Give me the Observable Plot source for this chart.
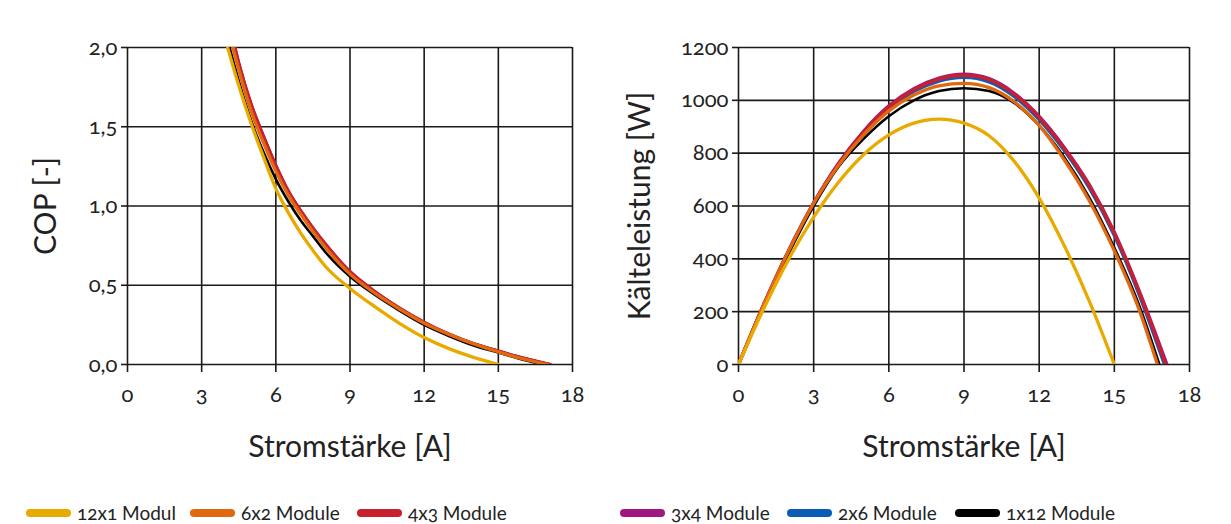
<!DOCTYPE html>
<html>
<head>
<meta charset="utf-8">
<script src="https://cdn.jsdelivr.net/npm/d3@7"></script>
<script src="https://cdn.jsdelivr.net/npm/@observablehq/plot@0.6"></script>
<style>
  html, body { margin: 0; padding: 0; background: #fff; }
  #wrap { position: relative; width: 1231px; height: 524px; overflow: hidden;
          font-family: "Lato", "Open Sans", sans-serif; font-variant-numeric: oldstyle-nums; color: #222; }
  .panel { position: absolute; top: 0; }
  .leg { position: absolute; top: 501px; display: flex; align-items: center; font-size: 19px; color: #222; white-space: nowrap; }
  .sw { width: 45px; height: 8px; border-radius: 4px; margin-right: 6px; }
</style>
</head>
<body>
<div id="wrap">
  <div id="left" class="panel" style="left:0px"></div>
  <div id="right" class="panel" style="left:600px"></div>
  <div id="legend"></div>
</div>
<script>
// ---- series ----
const seriesNames = ["12x1 Modul", "6x2 Module", "4x3 Module", "3x4 Module", "2x6 Module", "1x12 Module"];
const seriesColors = ["#E9AA00", "#E2680F", "#C8202D", "#A01780", "#0B5CB5", "#000000"];

// ---- COP [-] vs Stromstärke [A]: [I, COP] ----
const cop_12x1 = [[4.05,2.0],[4.5,1.76],[5,1.52],[5.5,1.31],[6,1.11],[6.5,0.96],[7,0.83],[7.5,0.72],[8,0.62],[9,0.48],[10,0.365],[11,0.26],[12,0.17],[13,0.10],[14,0.045],[15,0.0]];
const cop_6x2  = [[4.26,2.0],[4.5,1.86],[5,1.60],[5.5,1.40],[6,1.22],[6.5,1.07],[7,0.95],[7.5,0.84],[8,0.74],[9,0.57],[10,0.45],[11,0.35],[12,0.26],[13,0.19],[14,0.13],[15,0.08],[16,0.035],[17.0,0.0]];
const cop_4x3  = [[4.34,2.0],[4.5,1.90],[5,1.64],[5.5,1.44],[6,1.255],[6.5,1.095],[7,0.97],[7.5,0.86],[8,0.76],[9,0.585],[10,0.46],[11,0.355],[12,0.265],[13,0.19],[14,0.13],[15,0.085],[16,0.04],[17.1,0.0]];
const cop_3x4  = [[4.34,2.0],[4.5,1.90],[5,1.64],[5.5,1.44],[6,1.255],[6.5,1.095],[7,0.97],[7.5,0.86],[8,0.76],[9,0.585],[10,0.46],[11,0.355],[12,0.265],[13,0.19],[14,0.13],[15,0.085],[16,0.04],[17.1,0.0]];
const cop_2x6  = [[4.31,2.0],[4.5,1.89],[5,1.63],[5.5,1.43],[6,1.245],[6.5,1.085],[7,0.96],[7.5,0.85],[8,0.75],[9,0.58],[10,0.455],[11,0.35],[12,0.26],[13,0.19],[14,0.13],[15,0.083],[16,0.038],[17.05,0.0]];
const cop_1x12 = [[4.13,2.0],[4.5,1.79],[5,1.54],[5.5,1.34],[6,1.17],[6.5,1.03],[7,0.91],[7.5,0.81],[8,0.71],[9,0.555],[10,0.44],[11,0.34],[12,0.25],[13,0.18],[14,0.12],[15,0.075],[16,0.03],[16.8,0.0]];

// ---- Kälteleistung [W] vs Stromstärke [A]: [I, Q] ----
const q_12x1 = [[0,0],[1,210],[2,398],[3,558],[4,691],[5,795],[6,869],[7,914],[8,929],[9,914],[10,866],[11,770],[12,630],[13,450],[14,240],[15,0]];
const q_6x2  = [[0,0],[1,225],[2,430],[3,610],[4,755],[5,870],[6,960],[7,1020],[8,1055],[9,1064],[10,1048],[11,995],[12,905],[13,775],[14,620],[15,430],[16,205],[16.72,0]];
const q_4x3  = [[0,0],[1,225],[2,430],[3,610],[4,760],[5,880],[6,975],[7,1040],[8,1080],[9,1095],[10,1078],[11,1023],[12,935],[13,818],[14,677],[15,497],[16,272],[17.05,0]];
const q_3x4  = [[0,0],[1,226],[2,432],[3,612],[4,763],[5,884],[6,979],[7,1044],[8,1084],[9,1099],[10,1082],[11,1027],[12,939],[13,822],[14,681],[15,501],[16,277],[17.1,0]];
const q_2x6  = [[0,0],[1,225],[2,430],[3,610],[4,758],[5,877],[6,970],[7,1034],[8,1073],[9,1087],[10,1070],[11,1015],[12,927],[13,810],[14,668],[15,488],[16,262],[17.0,0]];
const q_1x12 = [[0,0],[1,220],[2,420],[3,600],[4,750],[5,855],[6,940],[7,1000],[8,1035],[9,1046],[10,1035],[11,990],[12,905],[13,785],[14,632],[15,442],[16,222],[16.8,0]];

// ---- ticks ----
const xTicks = [0, 3, 6, 9, 12, 15, 18];
const copTicks = [0, 0.5, 1.0, 1.5, 2.0];
const qTicks = [0, 200, 400, 600, 800, 1000, 1200];

const copSeries = [cop_12x1, cop_6x2, cop_4x3, cop_3x4, cop_2x6, cop_1x12];
const qSeries = [q_12x1, q_6x2, q_4x3, q_3x4, q_2x6, q_1x12];
// drawing order (index into series): blue, purple, red, black, orange, yellow
const drawOrder = [4, 3, 2, 5, 1, 0];

function rows(seriesArr) {
  const out = [];
  for (const k of drawOrder) {
    for (const [x, y] of seriesArr[k]) out.push({x, y, s: seriesNames[k], k});
  }
  return out;
}

const font = '"Lato", "Open Sans", sans-serif';

function panel({data, yTicks, yDomain, yFmt, yLabel, width, marginLeft, marginRight, yLabelDx}) {
  const lines = drawOrder.map(k => Plot.line(data.filter(d => d.k === k), {
    x: "x", y: "y", stroke: seriesColors[k], strokeWidth: k === 5 ? 2.6 : 3.3, curve: "monotone-x", clip: true
  }));
  return Plot.plot({
    width, height: 480,
    marginLeft, marginRight, marginTop: 47, marginBottom: 116,
    style: {fontFamily: font, color: "#222", background: "transparent"},
    x: {domain: [0, 18], ticks: xTicks},
    y: {domain: yDomain, ticks: yTicks},
    marks: [
      Plot.gridX(xTicks, {stroke: "#1a1a1a", strokeOpacity: 1, strokeWidth: 1.6}),
      Plot.gridY(yTicks, {stroke: "#1a1a1a", strokeOpacity: 1, strokeWidth: 1.6}),
      Plot.axisX(xTicks, {tickSize: 8, tickPadding: 14, fontSize: 22, fontVariant: "oldstyle-nums", label: null, stroke: "#1a1a1a", strokeWidth: 1.6}),
      Plot.axisY(yTicks, {tickSize: 6, tickPadding: 4, fontSize: 22, fontVariant: "oldstyle-nums", label: null, tickFormat: yFmt, stroke: "#1a1a1a", strokeWidth: 1.6}),
      ...lines,
      Plot.text(["Stromstärke [A]"], {frameAnchor: "bottom", dy: 83, lineAnchor: "middle", textAnchor: "middle", fontSize: 30, fill: "#222"}),
      Plot.text([yLabel], {frameAnchor: "left", dx: yLabelDx, rotate: -90, lineAnchor: "middle", textAnchor: "middle", fontSize: 30, fill: "#222"})
    ]
  });
}

document.getElementById("left").append(panel({
  data: rows(copSeries), yTicks: copTicks, yDomain: [0, 2],
  yFmt: d => d.toFixed(1).replace(".", ","), yLabel: "COP [-]",
  width: 600, marginLeft: 127, marginRight: 28, yLabelDx: -81
}));
document.getElementById("right").append(panel({
  data: rows(qSeries), yTicks: qTicks, yDomain: [0, 1200],
  yFmt: d => String(d), yLabel: "Kälteleistung [W]",
  width: 620, marginLeft: 138, marginRight: 31, yLabelDx: -98
}));

// ---- legend ----
const legendLeft = [26, 190, 357, 620, 787, 955];
const legend = document.getElementById("legend");
seriesNames.forEach((name, i) => {
  const item = document.createElement("div");
  item.className = "leg";
  item.style.left = legendLeft[i] + "px";
  const sw = document.createElement("div");
  sw.className = "sw";
  sw.style.background = seriesColors[i];
  const t = document.createElement("span");
  t.textContent = name;
  item.append(sw, t);
  legend.append(item);
});
</script>
</body>
</html>
